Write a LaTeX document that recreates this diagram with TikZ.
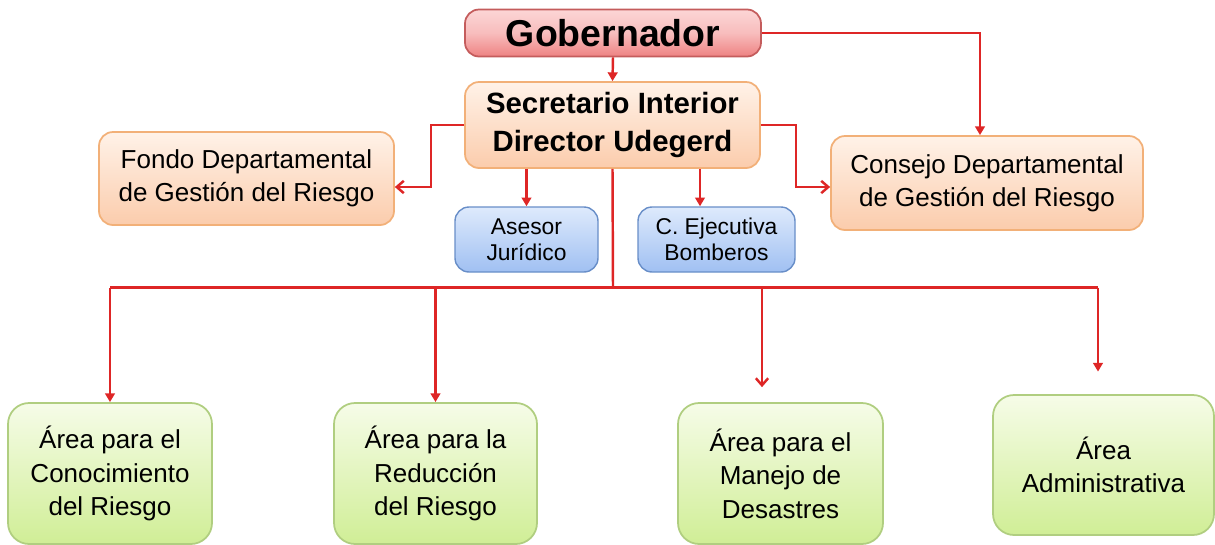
\documentclass[tikz,border=0pt]{standalone}
\usepackage{fontspec}
\setmainfont{Liberation Sans}
\usetikzlibrary{arrows.meta}

\definecolor{linered}{RGB}{222,38,38}
\definecolor{gobtop}{RGB}{252,214,214}
\definecolor{gobbot}{RGB}{238,130,130}
\definecolor{gobline}{RGB}{196,92,92}
\definecolor{orgtop}{RGB}{255,242,232}
\definecolor{orgbot}{RGB}{251,204,172}
\definecolor{orgline}{RGB}{242,176,120}
\definecolor{blutop}{RGB}{222,234,252}
\definecolor{blubot}{RGB}{160,192,242}
\definecolor{bluline}{RGB}{104,142,200}
\definecolor{grntop}{RGB}{246,252,232}
\definecolor{grnbot}{RGB}{208,238,150}
\definecolor{grnline}{RGB}{176,206,128}

\tikzset{
    box/.style={rounded corners=8pt, align=center, inner sep=2pt,
        font=\fontsize{14.8pt}{19pt}\selectfont},
    gobbox/.style={box, draw=gobline, line width=1pt, top color=gobtop, bottom color=gobbot,
        middle color=gobtop!70!gobbot, font=\fontsize{21.3pt}{24pt}\selectfont\bfseries},
    orgbox/.style={box, draw=orgline, line width=1pt, top color=orgtop, bottom color=orgbot},
    secbox/.style={orgbox, font=\fontsize{16.7pt}{21.5pt}\selectfont\bfseries},
    blubox/.style={box, draw=bluline, line width=0.8pt, top color=blutop, bottom color=blubot,
        font=\fontsize{13pt}{14.7pt}\selectfont},
    grnbox/.style={box, draw=grnline, line width=1pt, top color=grntop, bottom color=grnbot,
        rounded corners=12pt},
    link/.style={draw=linered, line width=1.4pt, -{Triangle[width=5.5pt,length=5pt]}},
    linko/.style={draw=linered, line width=1.4pt, -{Straight Barb[width=7pt,length=4pt]}},
    bus/.style={draw=linered, line width=1.4pt}
}

\begin{document}
\begin{tikzpicture}
        \useasboundingbox (0,0) rectangle (24.3,-10.88);

        % Top level
        \node[gobbox, minimum width=5.92cm, minimum height=0.94cm] (gob) at (12.26,-0.66) {Gobernador};
        \node[secbox, minimum width=5.9cm, minimum height=1.72cm] (sec) at (12.25,-2.5) {Secretario Interior\\Director Udegerd};

        % Side boxes
        \node[orgbox, minimum width=5.9cm, minimum height=1.86cm] (fon) at (4.93,-3.57) {Fondo Departamental\\de Gestión del Riesgo};
        \node[orgbox, minimum width=6.24cm, minimum height=1.88cm] (con) at (19.74,-3.66) {Consejo Departamental\\de Gestión del Riesgo};

        % Advisors
        \node[blubox, minimum width=2.86cm, minimum height=1.3cm] (ase) at (10.53,-4.79) {Asesor\\Jurídico};
        \node[blubox, minimum width=3.14cm, minimum height=1.3cm] (cej) at (14.33,-4.79) {C. Ejecutiva\\Bomberos};

        % Areas
        \node[grnbox, minimum width=4.08cm, minimum height=2.82cm] (ar1) at (2.2,-9.47) {Área para el\\Conocimiento\\del Riesgo};
        \node[grnbox, minimum width=4.06cm, minimum height=2.82cm] (ar2) at (8.71,-9.47) {Área para la\\Reducción\\del Riesgo};
        \node[grnbox, minimum width=4.1cm, minimum height=2.82cm] (ar3) at (15.61,-9.47) {Área para el\\Manejo de\\Desastres};
        \node[grnbox, minimum width=4.42cm, minimum height=2.8cm] (ar4) at (22.07,-9.3) {Área\\Administrativa};

        % Connectors from the top
        \draw[link] (gob.south) -- (sec.north);
        \draw[link] (gob.east) -| ([xshift=-0.14cm]con.north);
        \draw[linko] (sec.west) -- ++(-0.66,0) |- ([yshift=-0.17cm]fon.east);
        \draw[linko] (sec.east) -- ++(0.7,0) |- ([yshift=-0.08cm]con.west);
        \draw[link] (ase.north |- sec.south) -- (ase.north);
        \draw[link] ([xshift=-0.33cm]cej.north |- sec.south) -- ([xshift=-0.33cm]cej.north);

        % Bus to the areas
        \coordinate (bus) at (12.26,-5.75);
        \draw[bus] (sec.south) -- (bus);
        \draw[bus] (ar1.north |- bus) -- ([xshift=-0.11cm]ar4.north |- bus);
        \draw[link] (ar1.north |- bus) -- (ar1.north);
        \draw[link] (ar2.north |- bus) -- (ar2.north);
        \draw[linko, shorten >=0.3cm] ([xshift=-0.37cm]ar3.north |- bus) -- ([xshift=-0.37cm]ar3.north);
        \draw[link, shorten >=0.45cm] ([xshift=-0.11cm]ar4.north |- bus) -- ([xshift=-0.11cm]ar4.north);
    \end{tikzpicture}
\end{document}
